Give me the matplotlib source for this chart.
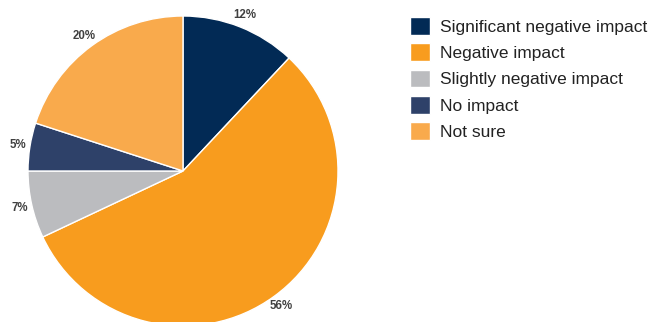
import matplotlib
matplotlib.use("Agg")
import matplotlib.pyplot as plt

categories = ["Significant negative impact", "Negative impact",
              "Slightly negative impact", "No impact", "Not sure"]
values = [12, 56, 7, 5, 20]
colors = ["#022A55", "#F89C1E", "#BBBCBF", "#2E4169", "#F9AA4C"]

plt.rcParams["font.family"] = ["Liberation Sans", "DejaVu Sans"]

fig = plt.figure(figsize=(6.49, 3.22), dpi=100)
ax = fig.add_axes([0, 0, 1, 1])

wedges, texts, autotexts = ax.pie(
    values, colors=colors, startangle=90, counterclock=False,
    center=(183, 151), radius=155,
    wedgeprops=dict(edgecolor="white", linewidth=1),
    autopct=lambda p: f"{p:.0f}%", pctdistance=1.08,
    textprops=dict(fontsize=8.3, fontweight="bold", color="#404040"),
)

ax.set_xlim(0, 649)
ax.set_ylim(0, 322)
ax.set_aspect("auto")
ax.axis("off")

fs = 12.5
ax.legend(wedges, categories, loc="upper left",
          bbox_to_anchor=(410 / 649, 1 - 17 / 322),
          frameon=False, fontsize=fs, handlelength=1.18, handleheight=1.18,
          handletextpad=0.55, labelspacing=0.5, borderpad=0, borderaxespad=0,
          labelcolor="#222222")

fig.savefig("out.png", dpi=100)
